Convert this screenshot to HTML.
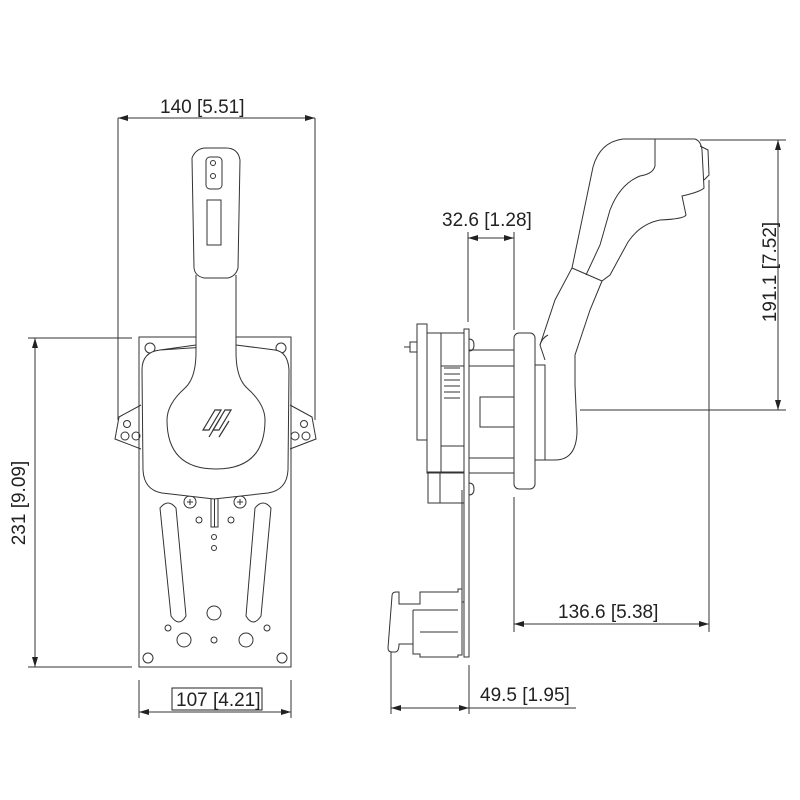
<!DOCTYPE html>
<html><head><meta charset="utf-8"><style>
html,body{margin:0;padding:0;background:#fff}
svg{display:block}
text{font-family:"Liberation Sans",sans-serif;font-size:19px;fill:#222}
</style></head><body>
<svg width="800" height="800" viewBox="0 0 800 800" xmlns="http://www.w3.org/2000/svg">
<defs>
<marker id="a" viewBox="0 0 10 6" refX="10" refY="3" markerWidth="14" markerHeight="6" markerUnits="userSpaceOnUse" orient="auto-start-reverse"><path d="M0,0L10,3L0,6z" fill="#222"/></marker>
</defs>
<g stroke="#333" stroke-width="1" fill="none">
<!-- LEFT VIEW dimensions -->
<line x1="118" y1="118" x2="118" y2="420"/>
<line x1="315" y1="118" x2="315" y2="420"/>
<line x1="118" y1="118" x2="315" y2="118" marker-start="url(#a)" marker-end="url(#a)"/>
<line x1="28" y1="338" x2="132" y2="338"/>
<line x1="28" y1="667" x2="132" y2="667"/>
<line x1="35" y1="338" x2="35" y2="667" marker-start="url(#a)" marker-end="url(#a)"/>
<line x1="139" y1="680" x2="139" y2="718"/>
<line x1="291" y1="680" x2="291" y2="718"/>
<line x1="139" y1="712" x2="291" y2="712" marker-start="url(#a)" marker-end="url(#a)"/>
<rect x="172" y="688" width="90" height="22" stroke="#222"/>
<!-- plate -->
<rect x="139" y="337" width="152" height="330"/>
<circle cx="150" cy="348" r="5"/><circle cx="281" cy="348" r="5"/>
<circle cx="168" cy="628" r="3"/><circle cx="267" cy="628" r="3"/>
<circle cx="214" cy="613" r="7"/><circle cx="184" cy="640" r="7"/><circle cx="246" cy="640" r="7"/>
<circle cx="214" cy="640" r="3"/>
<circle cx="148" cy="658" r="5"/><circle cx="282" cy="658" r="5"/>
<circle cx="199" cy="520" r="3"/><circle cx="231" cy="520" r="3"/>
<circle cx="214" cy="537" r="2.5"/><circle cx="214" cy="548" r="2.5"/>
<rect x="211" y="497" width="7" height="30"/><line x1="214.5" y1="497" x2="214.5" y2="527"/>
<circle cx="190" cy="502" r="6"/><circle cx="240" cy="502" r="6"/>
<path d="M187,502h6M190,499v6M237,502h6M240,499v6"/>
<!-- slots -->
<path d="M160,508 q8,-10 16,0 l10,108 q-7,12 -15,0 z"/>
<path d="M255,508 q8,-10 16,0 l-10,108 q-8,12 -15,0 z"/>
<!-- ears -->
<path d="M141,405 l-22,12 l-4,22 l26,10"/><circle cx="127" cy="424" r="3.5"/><circle cx="125" cy="436" r="4"/><circle cx="136" cy="436" r="4"/>
<path d="M290,405 l22,12 l4,22 l-26,10"/><circle cx="304" cy="424" r="3.5"/><circle cx="306" cy="436" r="4"/><circle cx="295" cy="436" r="4"/>
<!-- housing -->
<path d="M160,350 L196,345 M236,345 L275,350 Q288,352 289,370 L288,470 Q287,490 268,493 L214,499 L162,493 Q144,490 143,470 L142,370 Q142,352 160,350 Z" fill="#fff"/>
<!-- handle -->
<path d="M196,275 L196,352 Q196,378 185,388 Q167,404 167,420 Q167,469 216,469 Q265,469 265,420 Q265,404 247,388 Q236,378 236,352 L236,275" fill="#fff"/>
<path d="M192,158 Q196,148 206,148 L226,148 Q238,148 240,160 L238,268 Q236,276 228,278 L204,278 Q195,276 194,268 Z" fill="#fff"/>
<rect x="206" y="157" width="16" height="32" rx="4"/>
<circle cx="213" cy="163" r="2.5"/><circle cx="213" cy="176" r="2.5"/>
<rect x="207" y="200" width="14" height="45"/>
<g stroke-width="1.2"><path d="M203,430 l12,-20 h6 l-12,20 z M213,430 l12,-20 h6 l-12,20 z M209,437 l12,-20 M219,437 l10,-16"/></g>
<!-- RIGHT VIEW dims -->
<line x1="468" y1="232" x2="468" y2="322"/>
<line x1="514" y1="232" x2="514" y2="330"/>
<line x1="468" y1="238" x2="514" y2="238" marker-start="url(#a)" marker-end="url(#a)"/>
<line x1="700" y1="140" x2="786" y2="140"/>
<line x1="580" y1="410" x2="786" y2="410"/>
<line x1="778" y1="140" x2="778" y2="410" marker-start="url(#a)" marker-end="url(#a)"/>
<line x1="514" y1="497" x2="514" y2="632"/>
<line x1="709" y1="180" x2="709" y2="632"/>
<line x1="514" y1="624" x2="709" y2="624" marker-start="url(#a)" marker-end="url(#a)"/>
<line x1="391" y1="650" x2="391" y2="714"/>
<line x1="469" y1="665" x2="469" y2="714"/>
<line x1="391" y1="708" x2="469" y2="708" marker-start="url(#a)" marker-end="url(#a)"/>
<line x1="469" y1="708" x2="576" y2="708"/>
<!-- grip/handle -->
<path d="M545,360 L540,345 L555,300 L572,268 L593,167 Q600,142 623,139 L695,139 Q701,141 702,150 L704,188 Q700,192 682,196 L686,215 Q684,219 660,220 Q640,224 628,242 L610,275 L602,281 L590,310 L575,355 L575,385 L577,430 Q577,460 555,460 L545,460" fill="#fff"/>
<path d="M572,268 L602,281 M655,139 L655,166 Q653,174 640,176 Q620,184 610,210 L600,245 L586,275"/>
<path d="M700,146 L708,150 L709,175 L704,180"/>
<path d="M540,345 Q542,338 548,335"/>
<!-- body between plate and bezel -->
<rect x="469" y="350" width="45" height="123"/>
<line x1="469" y1="366" x2="514" y2="366"/><line x1="469" y1="458" x2="514" y2="458"/>
<rect x="480" y="397" width="34" height="30"/>
<rect x="514" y="333" width="21" height="156" rx="5" fill="#fff"/>
<rect x="535" y="365" width="10" height="95"/>
<!-- mount plate -->
<rect x="464" y="329" width="5" height="328" fill="#fff"/>
<path d="M462,490 V602 H464"/>
<path d="M469,339 q5,0 5,6 q0,6 -5,6 M469,483 q5,0 5,6 q0,6 -5,6"/>
<!-- mechanism -->
<path d="M427,333 L464,333 M427,472 L464,472"/>
<rect x="417" y="324" width="10" height="116"/>
<rect x="427" y="333" width="14" height="140"/>
<rect x="441" y="366" width="23" height="80"/>
<path d="M444,368h16M444,374h16M444,380h16M444,386h16M444,392h16M444,398h16"/>
<rect x="428" y="473" width="12" height="30"/>
<rect x="440" y="473" width="24" height="30"/>
<rect x="410" y="342" width="7" height="10"/><line x1="404" y1="347" x2="410" y2="347"/>
<!-- bottom connector -->
<path d="M392,596 q0,-4 4,-4 h3 v12 h21 v-12 h38 v-3 h4 v66 h-4 v2 h-38 v-3 h-7 v-10 h-14 q0,8 -4,8 h-3 q-4,0 -4,-4 z" fill="#fff"/>
<line x1="420" y1="610" x2="458" y2="610"/><line x1="420" y1="632" x2="458" y2="632"/>
<line x1="413" y1="610" x2="420" y2="610"/><line x1="413" y1="610" x2="413" y2="645"/>
</g>
<text x="160" y="113">140 [5.51]</text>
<text x="176" y="706">107 [4.21]</text>
<text x="0" y="0" transform="translate(25,503) rotate(-90)" text-anchor="middle">231 [9.09]</text>
<text x="770" y="272" transform="rotate(-90 770 272)" text-anchor="middle" dy="6">191.1 [7.52]</text>
<text x="442" y="226">32.6 [1.28]</text>
<text x="558" y="618">136.6 [5.38]</text>
<text x="480" y="701">49.5 [1.95]</text>
</svg>
</body></html>
